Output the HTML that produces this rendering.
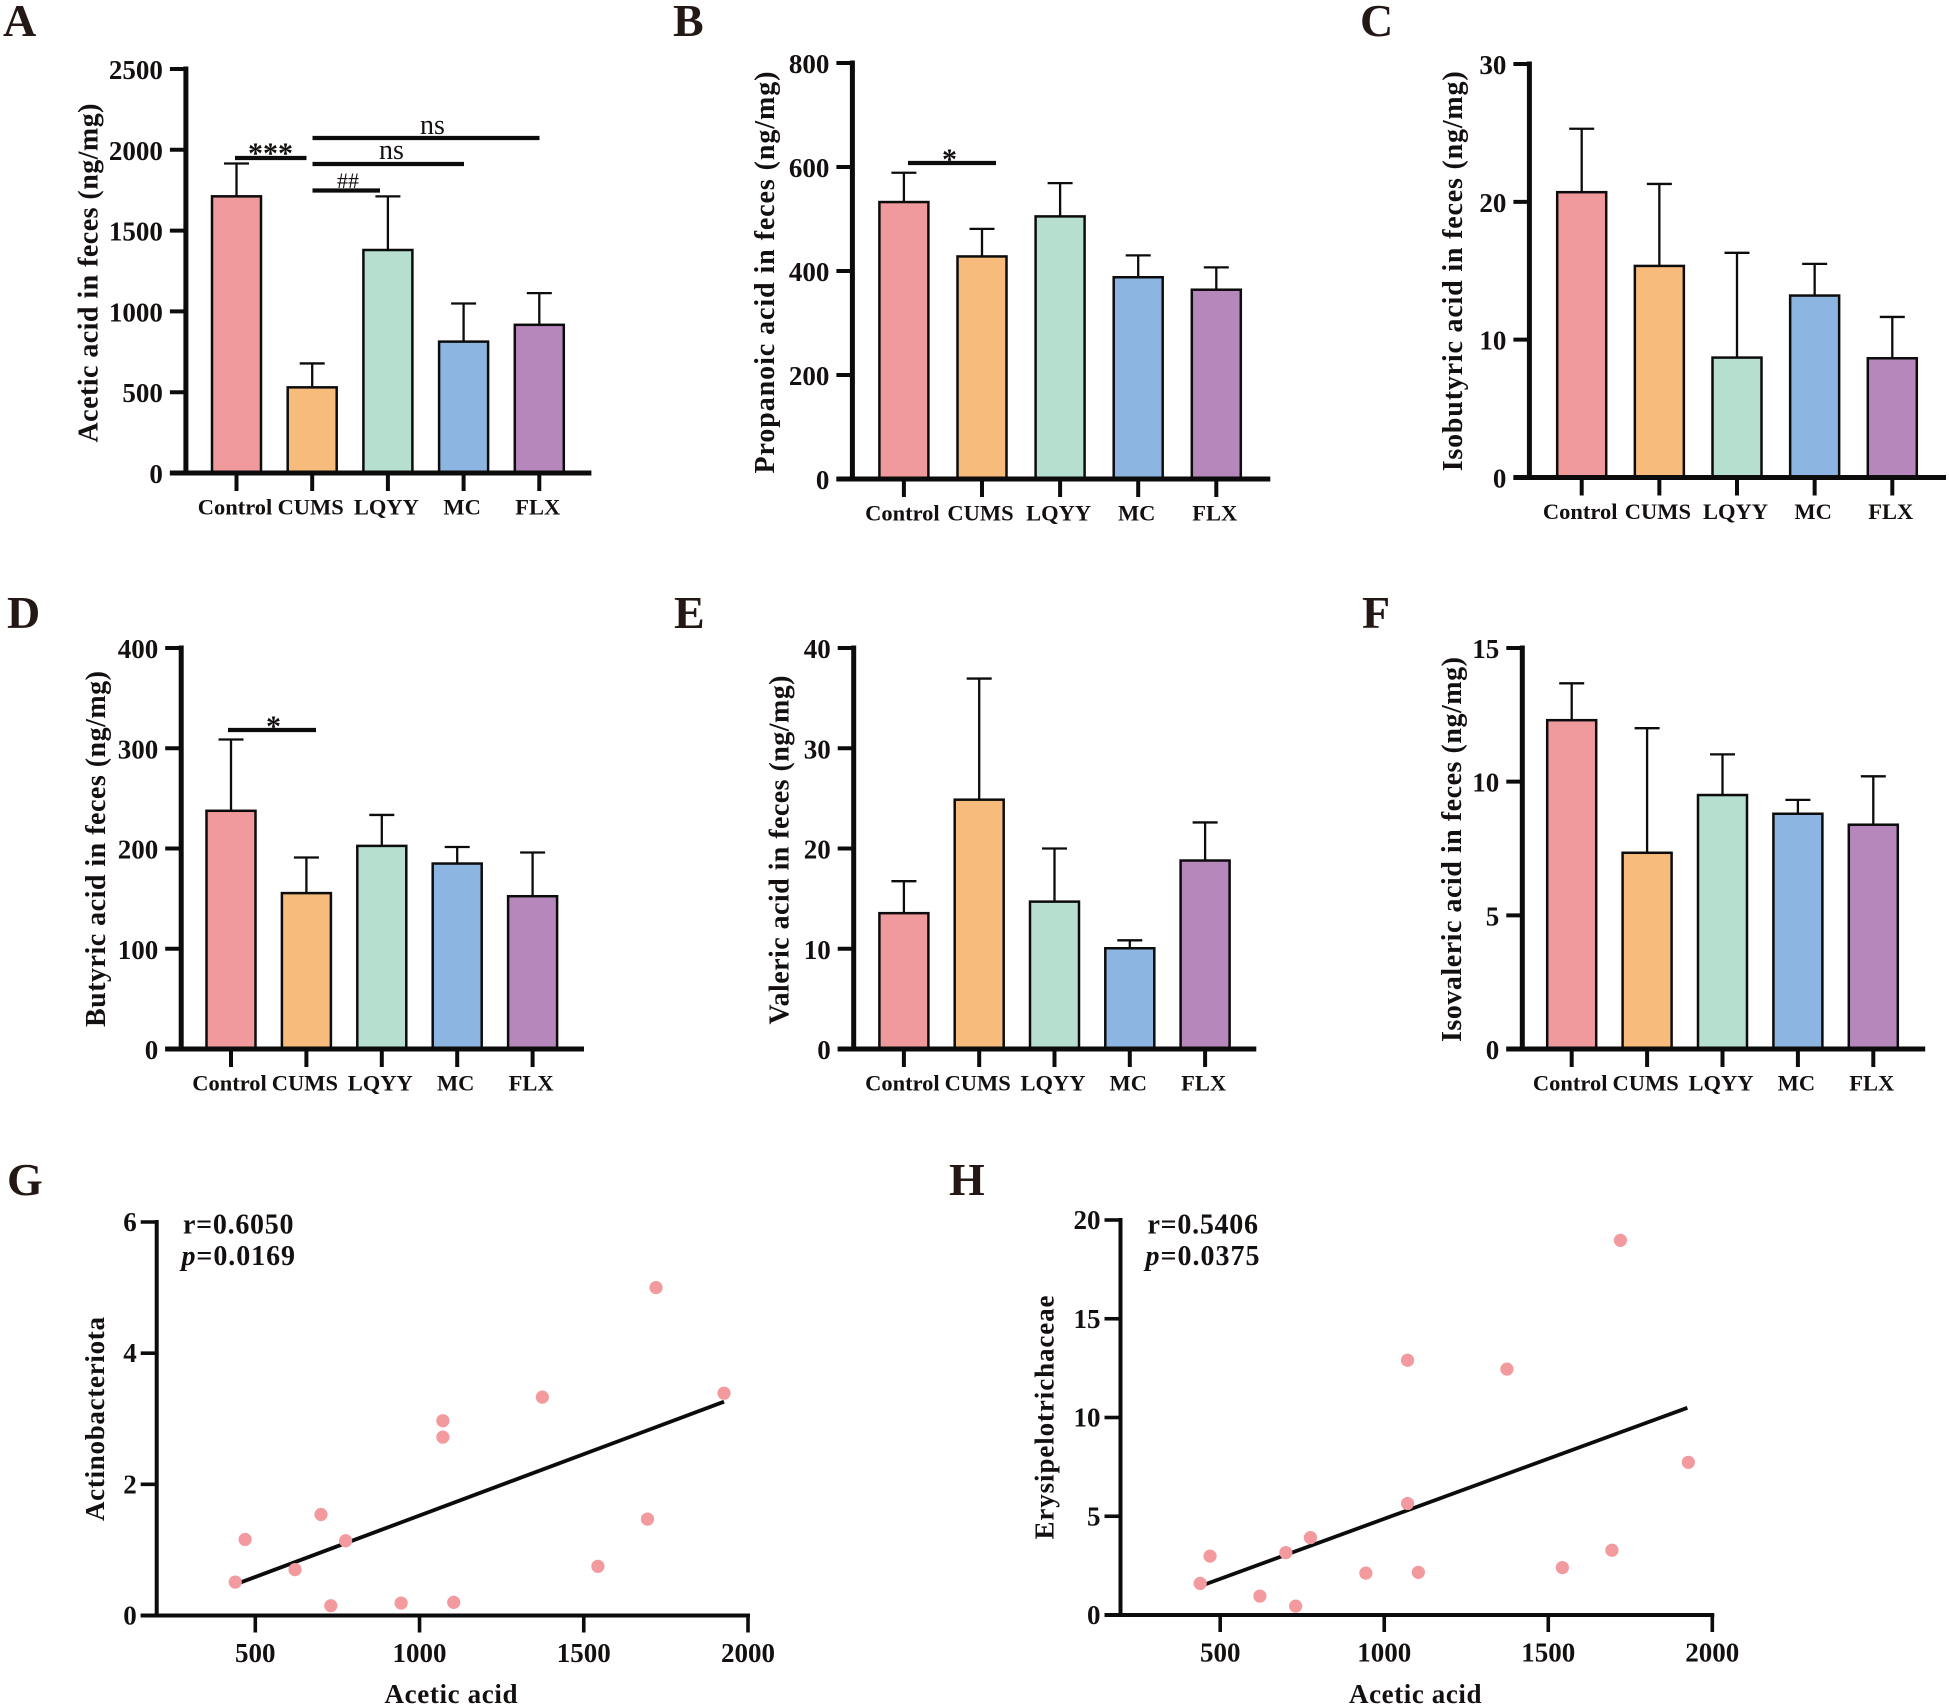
<!DOCTYPE html>
<html lang="en">
<head>
<meta charset="utf-8">
<title>Short-chain fatty acids in feces and correlations</title>
<style>
html,body{margin:0;padding:0;background:#fff;}
svg{display:block;}
text{font-family:"Liberation Serif","Noto Serif CJK SC",serif;font-weight:bold;fill:#14100f;}
.letter{font-size:46px;fill:#231815;}
.ytitle{font-size:28px;}
.ytitle2{font-size:27px;}
.xtitle{font-size:27px;}
.stat{font-size:28px;}
.sigthin{font-weight:normal;font-size:28px;}
.star{font-size:30px;}
.sig{stroke:#0c0c0c;stroke-width:4.2;}
</style>
</head>
<body>
<svg id="figure" xmlns="http://www.w3.org/2000/svg" width="1949" height="1708" viewBox="0 0 1949 1708">
  <rect x="0" y="0" width="1949" height="1708" fill="#ffffff"/>

  <g id="panel-a">
    <text class="letter" x="3" y="36">A</text>
    <text class="ytitle" transform="translate(97.5,442.5) rotate(-90)" textLength="339">Acetic acid in feces (ng/mg)</text>
    <line class="sig" x1="235" x2="306.5" y1="158" y2="158"/>
    <text class="star" x="270.5" y="163" text-anchor="middle">***</text>
    <line class="sig" x1="312.5" x2="380" y1="190.5" y2="190.5"/>
    <text class="sigthin" x="348" y="188" text-anchor="middle" style="font-size:22px">##</text>
    <line class="sig" x1="312.5" x2="464" y1="164" y2="164"/>
    <text class="sigthin" x="391.5" y="159" text-anchor="middle">ns</text>
    <line class="sig" x1="312.5" x2="539.5" y1="138" y2="138"/>
    <text class="sigthin" x="432.5" y="134" text-anchor="middle">ns</text>
  </g>

  <g id="panel-b">
    <text class="letter" x="673" y="36">B</text>
    <text class="ytitle" transform="translate(774,473.5) rotate(-90)" textLength="402">Propanoic acid in feces (ng/mg)</text>
    <line class="sig" x1="908" x2="996" y1="163" y2="163"/>
    <text class="star" x="949.5" y="169" text-anchor="middle">*</text>
  </g>

  <g id="panel-c">
    <text class="letter" x="1360" y="36">C</text>
    <text class="ytitle" transform="translate(1462,471.3) rotate(-90)" textLength="400">Isobutyric acid in feces (ng/mg)</text>
  </g>

  <g id="panel-d">
    <text class="letter" x="7" y="628">D</text>
    <text class="ytitle" transform="translate(105,1027) rotate(-90)" textLength="356">Butyric acid in feces (ng/mg)</text>
    <line class="sig" x1="228" x2="316" y1="730" y2="730"/>
    <text class="star" x="273.5" y="736" text-anchor="middle">*</text>
  </g>

  <g id="panel-e">
    <text class="letter" x="674" y="628">E</text>
    <text class="ytitle" transform="translate(788.25,1024.5) rotate(-90)" textLength="349">Valeric acid in feces (ng/mg)</text>
  </g>

  <g id="panel-f">
    <text class="letter" x="1362" y="628">F</text>
    <text class="ytitle" transform="translate(1461.2,1042) rotate(-90)" textLength="385">Isovaleric acid in feces (ng/mg)</text>
  </g>

  <g id="panel-g">
    <text class="letter" x="7" y="1195">G</text>
    <text class="ytitle2" transform="translate(104,1521) rotate(-90)" textLength="204">Actinobacteriota</text>
    <text class="xtitle" x="384.5" y="1703" textLength="133">Acetic acid</text>
    <text class="stat" x="183" y="1233.5" textLength="110.5">r=0.6050</text>
    <text class="stat" x="181.5" y="1265" textLength="113.5"><tspan font-style="italic">p</tspan>=0.0169</text>
  </g>

  <g id="panel-h">
    <text class="letter" x="949" y="1195">H</text>
    <text class="ytitle2" transform="translate(1053.3,1539.5) rotate(-90)" textLength="244">Erysipelotrichaceae</text>
    <text class="xtitle" x="1349" y="1703" textLength="132.5">Acetic acid</text>
    <text class="stat" x="1147.5" y="1233.5" textLength="110.5">r=0.5406</text>
    <text class="stat" x="1145.5" y="1265" textLength="114"><tspan font-style="italic">p</tspan>=0.0375</text>
  </g>
</svg>

<script>
// ---- Bar chart data ----
var categories = ['Control', 'CUMS', 'LQYY', 'MC', 'FLX'];
var aceticMeans = [1712, 530, 1380, 813, 917];
var aceticUpper = [1915, 678, 1712, 1049, 1113];
var aceticTicks = [0, 500, 1000, 1500, 2000, 2500];
var propanoicMeans = [532.6, 428, 505, 388, 364];
var propanoicUpper = [589, 481, 569, 430, 407];
var propanoicTicks = [0, 200, 400, 600, 800];
var isobutyricMeans = [20.7, 15.35, 8.7, 13.2, 8.65];
var isobutyricUpper = [25.3, 21.3, 16.3, 15.5, 11.65];
var isobutyricTicks = [0, 10, 20, 30];
var butyricMeans = [237.6, 155.5, 202.6, 185, 152.4];
var butyricUpper = [308.7, 191, 233.5, 201.5, 196];
var butyricTicks = [0, 100, 200, 300, 400];
var valericMeans = [13.55, 24.87, 14.7, 10.05, 18.8];
var valericUpper = [16.74, 36.95, 20, 10.84, 22.6];
var valericTicks = [0, 10, 20, 30, 40];
var isovalericMeans = [12.3, 7.34, 9.5, 8.8, 8.39];
var isovalericUpper = [13.68, 12, 11.02, 9.32, 10.2];
var isovalericTicks = [0, 5, 10, 15];
var barColors = ['#f19a9d', '#f7bb7c', '#b6dfd0', '#8db5e1', '#b587bb'];

// ---- Scatter data ----
var aceticAcidX = [439, 469, 621, 700, 730, 775, 944, 1071, 1071, 1104, 1374, 1543, 1694, 1720, 1927];
var actinobacteriotaY = [0.51, 1.16, 0.70, 1.54, 0.15, 1.14, 0.19, 2.97, 2.72, 0.20, 3.33, 0.75, 1.47, 5.0, 3.39];
var actinoFitX = [453, 1927];
var actinoFitY = [0.50, 3.26];
var actinoTicks = [0, 2, 4, 6];
var aceticAcidXH = [439, 469, 621, 700, 730, 775, 944, 1071, 1071, 1104, 1374, 1543, 1694, 1720, 1927];
var erysipeloY = [1.6, 2.98, 0.96, 3.16, 0.45, 3.92, 2.12, 5.65, 12.9, 2.16, 12.45, 2.4, 3.28, 18.97, 7.73];
var erysipeloFitX = [454, 1924];
var erysipeloFitY = [1.55, 10.49];
var erysipeloTicks = [0, 5, 10, 15, 20];
var scatterXTicks = [500, 1000, 1500, 2000];

var SVG_NS = 'http://www.w3.org/2000/svg';
var INK = '#0c0c0c';

function addLine(parent, x1, y1, x2, y2, width) {
  var el = document.createElementNS(SVG_NS, 'line');
  el.setAttribute('x1', x1);
  el.setAttribute('y1', y1);
  el.setAttribute('x2', x2);
  el.setAttribute('y2', y2);
  el.setAttribute('stroke', INK);
  el.setAttribute('stroke-width', width);
  parent.appendChild(el);
  return el;
}

function addText(parent, x, y, str, anchor, size) {
  var el = document.createElementNS(SVG_NS, 'text');
  el.setAttribute('x', x);
  el.setAttribute('y', y);
  el.setAttribute('text-anchor', anchor);
  el.setAttribute('font-size', size);
  el.textContent = str;
  parent.appendChild(el);
  return el;
}

function drawBarPanel(panelId, box, yMax, means, upper, ticks) {
  var parent = document.getElementById(panelId);
  var yScale = function (v) { return box.y0 - v * (box.y0 - box.yTop) / yMax; };
  var xScale = function (i) { return box.first + i * box.step; };
  var barW = 49;

  categories.forEach(function (cat, i) {
    var cx = xScale(i);
    var stem = addLine(parent, cx, yScale(means[i]), cx, yScale(upper[i]), 2.3);
    
    
    var cap = addLine(parent, cx - 12.5, yScale(upper[i]), cx + 12.5, yScale(upper[i]), 2.3);
    
    

    var bar = document.createElementNS(SVG_NS, 'rect');
    bar.setAttribute('x', cx - barW / 2);
    bar.setAttribute('y', yScale(means[i]));
    bar.setAttribute('width', barW);
    bar.setAttribute('height', box.y0 - yScale(means[i]));
    bar.setAttribute('fill', barColors[i]);
    bar.setAttribute('stroke', INK);
    bar.setAttribute('stroke-width', 2.5);
    
    
    parent.appendChild(bar);

    var tick = addLine(parent, cx, box.y0, cx, box.y0 + 18, 4);
    
    

    var label = addText(parent, cx - 1.5, box.y0 + 41.5, cat, 'middle', 22.5);
    
    
  });

  var yAxis = addLine(parent, box.axisX, yScale(yMax) - 2.5, box.axisX, box.y0 + 2.5, 5);
  
  
  var xAxis = addLine(parent, box.axisX - 16, box.y0, box.xEnd, box.y0, 5);
  
  

  ticks.forEach(function (t) {
    var yt = yScale(t);
    var tick = addLine(parent, box.axisX - 16, yt, box.axisX, yt, 4);
    
    
    var label = addText(parent, box.axisX - 23, yt + 10, String(t), 'end', 27);
    
    
  });
}

function drawScatterPanel(panelId, box, yMax, xs, ys, fitX, fitY, yTicks) {
  var parent = document.getElementById(panelId);
  var xScale = function (v) { return box.x500 + (v - 500) * (box.x2000 - box.x500) / 1500; };
  var yScale = function (v) { return box.y0 - v * (box.y0 - box.yTop) / yMax; };

  var yAxis = addLine(parent, box.axisX, yScale(yMax) - 2, box.axisX, box.y0 + 2, 4);
  
  
  var xAxis = addLine(parent, box.axisX - 16, box.y0, box.x2000 + 2, box.y0, 4);
  
  

  yTicks.forEach(function (t) {
    var yt = yScale(t);
    var tick = addLine(parent, box.axisX - 16, yt, box.axisX, yt, 3.6);
    
    
    var label = addText(parent, box.axisX - 20, yt + 9, String(t), 'end', 27);
    
    
  });

  scatterXTicks.forEach(function (t) {
    var xt = xScale(t);
    var tick = addLine(parent, xt, box.y0, xt, box.y0 + 17, 3.6);
    
    
    var label = addText(parent, xt, box.y0 + 46.5, String(t), 'middle', 27);
    
    
  });

  var fit = addLine(parent, xScale(fitX[0]), yScale(fitY[0]), xScale(fitX[1]), yScale(fitY[1]), 3.8);
  
  

  xs.forEach(function (xv, i) {
    var dot = document.createElementNS(SVG_NS, 'circle');
    dot.setAttribute('cx', xScale(xv));
    dot.setAttribute('cy', yScale(ys[i]));
    dot.setAttribute('r', 6.6);
    dot.setAttribute('fill', '#f29a9e');
    
    
    parent.appendChild(dot);
  });
}

drawBarPanel('panel-a', {axisX: 185.9, y0: 473, yTop: 69, first: 236.5, step: 75.7, xEnd: 591.4}, 2500, aceticMeans, aceticUpper, aceticTicks);
drawBarPanel('panel-b', {axisX: 852.4, y0: 479, yTop: 63, first: 903.9, step: 78.1, xEnd: 1270.3}, 800, propanoicMeans, propanoicUpper, propanoicTicks);
drawBarPanel('panel-c', {axisX: 1529.4, y0: 477.5, yTop: 64, first: 1581.7, step: 77.65, xEnd: 1946}, 30, isobutyricMeans, isobutyricUpper, isobutyricTicks);
drawBarPanel('panel-d', {axisX: 181.2, y0: 1049, yTop: 648, first: 231, step: 75.4, xEnd: 584}, 400, butyricMeans, butyricUpper, butyricTicks);
drawBarPanel('panel-e', {axisX: 853.7, y0: 1049, yTop: 648, first: 903.9, step: 75.3, xEnd: 1256.3}, 40, valericMeans, valericUpper, valericTicks);
drawBarPanel('panel-f', {axisX: 1522.3, y0: 1049, yTop: 648, first: 1571.7, step: 75.4, xEnd: 1925.2}, 15, isovalericMeans, isovalericUpper, isovalericTicks);
drawScatterPanel('panel-g', {axisX: 156.7, y0: 1615.5, yTop: 1222, x500: 255.3, x2000: 748}, 6, aceticAcidX, actinobacteriotaY, actinoFitX, actinoFitY, actinoTicks);
drawScatterPanel('panel-h', {axisX: 1120.5, y0: 1615, yTop: 1220, x500: 1220.2, x2000: 1712.3}, 20, aceticAcidXH, erysipeloY, erysipeloFitX, erysipeloFitY, erysipeloTicks);
</script>
</body>
</html>
